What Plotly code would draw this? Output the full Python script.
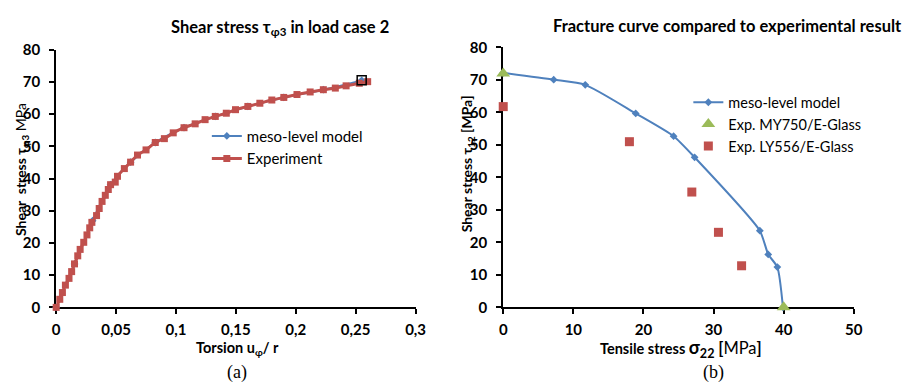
import plotly.graph_objects as go

W, H = 913, 391

# ---- Left chart data: shear stress in load case 2 ----
exp_x = [0, 0.003, 0.0052, 0.0077, 0.0107, 0.0129, 0.0153, 0.018, 0.020, 0.023, 0.0257,
         0.028, 0.0298, 0.0337, 0.0359, 0.0383, 0.041, 0.0435, 0.0454, 0.0493, 0.0512,
         0.0569, 0.0621, 0.0679, 0.075, 0.0827, 0.0903, 0.0977, 0.1067, 0.116, 0.1243,
         0.1328, 0.142, 0.1497, 0.160, 0.170, 0.180, 0.190, 0.201, 0.212, 0.223, 0.233,
         0.242, 0.253, 0.260]
exp_y = [0, 2.5, 4.6, 6.9, 9.0, 11.1, 13.5, 16.0, 18.0, 20.2, 22.5,
         24.7, 26.4, 28.5, 30.7, 32.9, 34.8, 36.6, 38.1, 38.9, 40.7,
         43.1, 45.1, 47.3, 48.9, 51.2, 52.4, 54.2, 55.8, 57.0, 58.3,
         59.3, 60.3, 61.4, 62.4, 63.4, 64.4, 65.2, 66.1, 66.9, 67.6, 68.1,
         68.8, 69.6, 70.1]
# meso-level model lies underneath the experiment curve
meso_x = [0, 0.0153, 0.0304, 0.0454, 0.0621, 0.0827, 0.1067, 0.1328, 0.160, 0.190, 0.223, 0.255]
meso_y = [0, 13.5, 26.9, 38.1, 45.1, 51.2, 55.8, 59.3, 62.4, 65.2, 67.6, 70.5]
meso_end_x = [0.255]
meso_end_y = [70.5]
left_xticks = [0, 0.05, 0.1, 0.15, 0.2, 0.25, 0.3]
left_xticktext = ["0", "0,05", "0,1", "0,15", "0,2", "0,25", "0,3"]

# ---- Right chart data: fracture curve ----
frac_x = [0, 7.2, 11.7, 18.9, 24.3, 27.3, 36.6, 37.8, 39.1, 39.9]
frac_y = [72.2, 70.1, 68.5, 59.7, 52.7, 46.2, 23.6, 16.3, 12.4, 0]
my750_x = [0, 40]
my750_y = [72, 0]
ly556_x = [0, 18.0, 26.9, 30.7, 34.0]
ly556_y = [61.8, 51.0, 35.5, 23.1, 12.8]

RED = "#C0504D"
BLUE = "#4F81BD"
GREEN = "#9BBB59"
FONT = "Lato"

def px(x):
    return x / W

def py(y):
    return 1 - y / H

fig = go.Figure()

# Left
fig.add_trace(go.Scatter(x=meso_x, y=meso_y, mode="lines+markers", name="meso-level model",
                         line=dict(color=BLUE, width=2, shape="spline"),
                         marker=dict(symbol="diamond", size=6, color=BLUE),
                         xaxis="x", yaxis="y", legend="legend", cliponaxis=False))
fig.add_trace(go.Scatter(x=exp_x, y=exp_y, mode="lines+markers", name="Experiment",
                         line=dict(color=RED, width=3, shape="spline"),
                         marker=dict(symbol="square", size=7, color=RED),
                         xaxis="x", yaxis="y", legend="legend", cliponaxis=False))
fig.add_trace(go.Scatter(x=meso_end_x, y=meso_end_y, mode="markers", showlegend=False,
                         marker=dict(symbol="square-open", size=9, color="black",
                                     line=dict(width=1.5, color="black")),
                         xaxis="x", yaxis="y", cliponaxis=False))

# Right
fig.add_trace(go.Scatter(x=frac_x, y=frac_y, mode="lines+markers", name="meso-level model",
                         line=dict(color=BLUE, width=2, shape="spline", smoothing=0.6),
                         marker=dict(symbol="diamond", size=6, color=BLUE),
                         xaxis="x2", yaxis="y2", legend="legend2", cliponaxis=False))
fig.add_trace(go.Scatter(x=my750_x, y=my750_y, mode="markers", name="Exp. MY750/E-Glass",
                         marker=dict(symbol="triangle-up", size=12, color=GREEN),
                         xaxis="x2", yaxis="y2", legend="legend2", cliponaxis=False))
fig.add_trace(go.Scatter(x=ly556_x, y=ly556_y, mode="markers", name="Exp. LY556/E-Glass",
                         marker=dict(symbol="square", size=9, color=RED),
                         xaxis="x2", yaxis="y2", legend="legend2", cliponaxis=False))

axis_common = dict(showline=True, linecolor="black", linewidth=2, showgrid=False, zeroline=False,
                   ticks="outside", ticklen=5, tickwidth=1.5, tickcolor="black",
                   layer="below traces",
                   tickfont=dict(family=FONT, size=15, color="black", weight="bold"))
xax = dict(axis_common, ticklabelstandoff=3)
yax = dict(axis_common, ticklabelstandoff=6)

fig.update_layout(
    width=W, height=H, margin=dict(l=0, r=0, t=0, b=0),
    paper_bgcolor="white", plot_bgcolor="white",
    font=dict(family=FONT, color="black"),
    xaxis=dict(domain=[px(53), px(418)], range=[0, 0.3], tickvals=left_xticks,
               ticktext=left_xticktext, anchor="y", **xax),
    yaxis=dict(domain=[py(311.7), py(41.7)], range=[0, 80], dtick=10, anchor="x", **yax),
    xaxis2=dict(domain=[px(507), px(863)], range=[0, 50], dtick=10, anchor="y2", **xax),
    yaxis2=dict(domain=[py(311.7), py(39.3)], range=[0, 80], dtick=10, anchor="x2", **yax),
    legend=dict(x=px(206), y=py(115), xanchor="left", yanchor="top", bgcolor="rgba(0,0,0,0)",
                font=dict(family=FONT, size=15, color="black"), tracegroupgap=0,
                itemwidth=30),
    legend2=dict(x=px(695), y=py(80), xanchor="left", yanchor="top", bgcolor="rgba(0,0,0,0)",
                 font=dict(family=FONT, size=14.5, color="black"), tracegroupgap=0,
                 itemwidth=30),
    showlegend=True,
)

annots = [
    dict(text="<b>Shear stress τ<sub>φ3</sub> in load case 2</b>", x=px(280), y=py(18),
         font=dict(size=16.5)),
    dict(text="<b>Fracture curve compared to experimental result</b>", x=px(735), y=py(17),
         font=dict(size=16.5)),
    dict(text="<b>Shear  stress τ<sub>φ3</sub></b> MPa", x=px(18), y=py(167), textangle=-90,
         font=dict(size=14)),
    dict(text="<b>Shear stress τ<sub>12</sub> [MPa]</b>", x=px(471), y=py(161), textangle=-90,
         font=dict(size=14)),
    dict(text="<b>Torsion u<sub>φ</sub>/ r</b>", x=px(237), y=py(355), font=dict(size=14.5)),
    dict(text="<b>Tensile stress <span style='font-size:18px'>σ<sub>22</sub></span></b>"
              " <span style='font-size:16.5px'><b>[</b>MPa<b>]</b></span>",
         x=px(688), y=py(355), font=dict(size=14.5)),
    dict(text="(a)", x=px(237), y=py(380), font=dict(family="Liberation Serif", size=18)),
    dict(text="(b)", x=px(721), y=py(380), font=dict(family="Liberation Serif", size=18)),
]
for a in annots:
    a.update(xref="paper", yref="paper", showarrow=False, xanchor="center", yanchor="middle")
    a["font"] = dict(family=a["font"].get("family", FONT), size=a["font"]["size"], color="black")
fig.update_layout(annotations=annots)

fig.write_html("out.html")
